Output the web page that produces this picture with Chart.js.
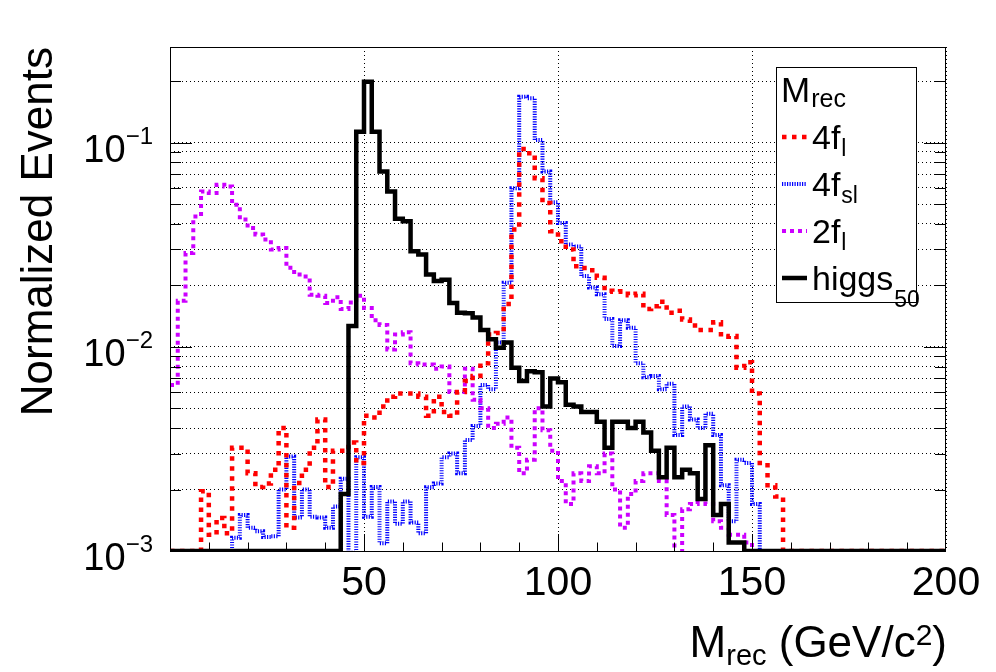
<!DOCTYPE html>
<html>
<head>
<meta charset="utf-8">
<script src="https://cdn.jsdelivr.net/npm/chart.js@4.4.1/dist/chart.umd.min.js"></script>
<style>
  body { margin: 0; background: #fff; }
  #wrap { width: 996px; height: 672px; }
</style>
</head>
<body>
<div id="wrap"><canvas id="plot" width="996" height="672"></canvas></div>
<script>
// M_rec histograms, 100 bins of 2 GeV between 0 and 200 GeV/c^2
const binWidth = 2;
const nBins = 100;

const fourFl = [
  0, 0, 0, 0, 0.00196, 0.0012, 0.00145, 0.00122, 0.0032, 0.0032,
  0.0024, 0.00206, 0.00214, 0.0025, 0.004, 0.0013, 0.00215, 0.0025, 0.0032, 0.0044,
  0.00206, 0.0031, 0.0031, 0.0034, 0.0027, 0.0046, 0.0045, 0.0051, 0.0057, 0.0059,
  0.0059, 0.0059, 0.0057, 0.0046, 0.0057, 0.0048, 0.0046, 0.006, 0.0068, 0.0072,
  0.0083, 0.0115, 0.0117, 0.0162, 0.0375, 0.0931, 0.0887, 0.067, 0.0506, 0.0368,
  0.0329, 0.030, 0.0248, 0.0243, 0.0237, 0.0218, 0.0188, 0.0186, 0.0187, 0.0179,
  0.0182, 0.0153, 0.0158, 0.0166, 0.0147, 0.015, 0.0136, 0.0127, 0.0121, 0.0121,
  0.0132, 0.0112, 0.0113, 0.0079, 0.0084, 0.0059, 0.0027, 0.0021, 0.00185, 0,
  0, 0, 0, 0, 0, 0, 0, 0, 0, 0,
  0, 0, 0, 0, 0, 0, 0, 0, 0, 0
];

const fourFsl = [
  0, 0, 0, 0, 0, 0, 0, 0, 0.00116, 0.0015,
  0.0013, 0.00125, 0.00117, 0.00118, 0.002, 0.0029, 0.00146, 0.002, 0.00147, 0.00146,
  0.0013, 0.00165, 0.00226, 0.00098, 0.00288, 0.00147, 0.00206, 0.00109, 0.00175, 0.00136,
  0.00175, 0.00138, 0.00122, 0.00205, 0.00214, 0.00288, 0.003, 0.0024, 0.0035, 0.0041,
  0.0065, 0.0062, 0.0105, 0.0206, 0.0598, 0.1676, 0.165, 0.103, 0.0722, 0.051,
  0.0404, 0.0317, 0.031, 0.0222, 0.0195, 0.0181, 0.0137, 0.0101, 0.0135, 0.0124,
  0.0083, 0.0071, 0.0072, 0.0062, 0.0066, 0.0037, 0.0051, 0.0044, 0.004, 0.0047,
  0.0037, 0.0021, 0.0014, 0.0028, 0.0027, 0.0017, 0, 0, 0, 0,
  0, 0, 0, 0, 0, 0, 0, 0, 0, 0,
  0, 0, 0, 0, 0, 0, 0, 0, 0, 0
];

const twoFl = [
  0.0065, 0.0168, 0.0288, 0.0435, 0.0577, 0.0566, 0.0622, 0.061, 0.0497, 0.042,
  0.0382, 0.0355, 0.0335, 0.030, 0.0305, 0.0244, 0.0226, 0.0221, 0.018, 0.0178,
  0.0164, 0.0175, 0.0153, 0.0165, 0.0178, 0.0155, 0.0135, 0.0128, 0.0097, 0.0115,
  0.0118, 0.0083, 0.0082, 0.0082, 0.0078, 0.008, 0.006, 0.006, 0.0078, 0.0055,
  0.005, 0.004, 0.0042, 0.0045, 0.0032, 0.0024, 0.0028, 0.005, 0.0039, 0.0031,
  0.0022, 0.0017, 0.0024, 0.0022, 0.0026, 0.0024, 0.003, 0.002, 0.0013, 0.0019,
  0.0022, 0.0024, 0.0024, 0.0022, 0.0015, 0.0009, 0.0016, 0.0017, 0.0018, 0.0017,
  0.0014, 0.0013, 0.0012, 0.0012, 0.0011, 0, 0, 0, 0, 0,
  0, 0, 0, 0, 0, 0, 0, 0, 0, 0,
  0, 0, 0, 0, 0, 0, 0, 0, 0, 0
];

const higgs50 = [
  0, 0, 0, 0, 0, 0, 0, 0, 0, 0,
  0, 0, 0, 0, 0, 0, 0, 0, 0, 0,
  0, 0, 0.0019, 0.01265, 0.113, 0.1985, 0.113, 0.0722, 0.0577, 0.0424,
  0.0412, 0.0294, 0.0283, 0.0226, 0.021, 0.0213, 0.0164, 0.0147, 0.0146, 0.0139,
  0.0121, 0.0109, 0.0099, 0.0105, 0.0079, 0.0068, 0.0076, 0.0075, 0.0051, 0.007,
  0.0067, 0.0052, 0.0051, 0.0048, 0.0048, 0.0043, 0.0032, 0.0043, 0.0043, 0.004,
  0.0043, 0.0038, 0.0031, 0.0023, 0.0032, 0.0023, 0.0025, 0.0024, 0.0018, 0.0033,
  0.0015, 0.0017, 0.0011, 0.0011, 0, 0, 0, 0, 0, 0,
  0, 0, 0, 0, 0, 0, 0, 0, 0, 0,
  0, 0, 0, 0, 0, 0, 0, 0, 0, 0
];

const seriesNames = ['4f', '4f', '2f', 'higgs'];
const seriesSubs = ['l', 'sl', 'l', '50'];
const seriesColors = ['#ff0000', '#0000ff', '#cc00ff', '#000000'];

const xRange = [0, 200];
const xGridTicks = [50, 100, 150, 200];
const xLabelTicks = [50, 100, 150, 200];
const xMinorTicks = [10, 20, 30, 40, 50, 60, 70, 80, 90, 100, 110, 120, 130, 140, 150, 160, 170, 180, 190];

const yRange = [0.001, 0.294];
const yTicks = [0.001, 0.002, 0.003, 0.004, 0.005, 0.006, 0.007, 0.008, 0.009,
                0.01, 0.02, 0.03, 0.04, 0.05, 0.06, 0.07, 0.08, 0.09,
                0.1, 0.2];
const yLabelTicks = [0.001, 0.01, 0.1];
const yLabelExps = ['\u22123', '\u22122', '\u22121'];

const FONT = '"Liberation Sans", Arial, Helvetica, sans-serif';

// bin low edges + closing edge; empty bins sit on the axis minimum like ROOT draws them
function histPoints(values) {
  const pts = values.map((v, i) => ({x: xRange[0] + i * binWidth, y: v > 0 ? v : yRange[0]}));
  pts.push({x: xRange[0] + nBins * binWidth, y: pts[pts.length - 1].y});
  return pts;
}

const styles = [
  {width: 4.5, dash: [4.5, 5.5], order: 1},
  {width: 4, dash: [1.2, 1.3], order: 3},
  {width: 4, dash: [4, 4], order: 2},
  {width: 4.5, dash: [], order: 0}
];

const allSeries = [fourFl, fourFsl, twoFl, higgs50];
const datasets = allSeries.map((vals, i) => ({
  label: seriesNames[i] + '_' + seriesSubs[i],
  data: histPoints(vals),
  borderColor: seriesColors[i],
  borderWidth: styles[i].width,
  borderDash: styles[i].dash,
  borderCapStyle: 'butt',
  borderJoinStyle: 'miter',
  order: styles[i].order,
  stepped: 'before',
  pointRadius: 0,
  fill: false,
  tension: 0
}));

function drawSubText(ctx, x, y, main, sub, size, subSize, subDy) {
  ctx.font = size + 'px ' + FONT;
  ctx.textAlign = 'left';
  ctx.fillText(main, x, y);
  const w = ctx.measureText(main).width;
  ctx.font = subSize + 'px ' + FONT;
  ctx.fillText(sub, x + w + 1, y + subDy);
}

const rootDecor = {
  id: 'rootDecor',
  afterDatasetsDraw(chart) {
    const {ctx, chartArea: a, scales: {x, y}} = chart;
    ctx.save();
    ctx.strokeStyle = '#000';
    ctx.fillStyle = '#000';
    ctx.lineWidth = 1;
    ctx.setLineDash([]);

    // frame
    ctx.strokeRect(a.left + 0.5, a.top + 0.5, a.right - a.left - 1, a.bottom - a.top);

    // inward ticks on left and right
    ctx.beginPath();
    yTicks.forEach(v => {
      const py = Math.round(y.getPixelForValue(v)) + 0.5;
      const len = yLabelTicks.includes(v) ? 22 : 11;
      ctx.moveTo(a.left, py); ctx.lineTo(a.left + len, py);
      ctx.moveTo(a.right, py); ctx.lineTo(a.right - len, py);
    });
    // inward ticks on bottom
    xMinorTicks.forEach(v => {
      const px = Math.round(x.getPixelForValue(v)) + 0.5;
      const len = xLabelTicks.includes(v) ? 17 : 8.5;
      ctx.moveTo(px, a.bottom); ctx.lineTo(px, a.bottom - len);
    });
    ctx.stroke();

    // y tick labels 10^n
    ctx.textBaseline = 'alphabetic';
    yLabelTicks.forEach((v, i) => {
      const py = y.getPixelForValue(v);
      ctx.font = '24px ' + FONT;
      ctx.textAlign = 'right';
      const right = a.left - 17;
      ctx.fillText(yLabelExps[i], right, py + 1);
      const sw = ctx.measureText(yLabelExps[i]).width;
      ctx.font = '38px ' + FONT;
      ctx.fillText('10', right - sw, py + 19);
    });

    // x tick labels
    ctx.font = '41px ' + FONT;
    ctx.textAlign = 'center';
    xLabelTicks.forEach(v => {
      ctx.fillText(String(v), x.getPixelForValue(v), 595);
    });

    // x axis title, right aligned to the frame
    const parts = [
      {t: 'M', s: 44, dy: 0},
      {t: 'rec', s: 29, dy: 8},
      {t: ' (GeV/c', s: 44, dy: 0},
      {t: '2', s: 30, dy: -12},
      {t: ')', s: 44, dy: 0}
    ];
    let total = 0;
    parts.forEach(p => { ctx.font = p.s + 'px ' + FONT; p.w = ctx.measureText(p.t).width; total += p.w; });
    let cx = a.right + 1 - total;
    ctx.textAlign = 'left';
    parts.forEach(p => {
      ctx.font = p.s + 'px ' + FONT;
      ctx.fillText(p.t, cx, 657 + p.dy);
      cx += p.w;
    });

    // y axis title
    ctx.save();
    ctx.translate(52, a.top);
    ctx.rotate(-Math.PI / 2);
    ctx.font = '44px ' + FONT;
    ctx.textAlign = 'right';
    ctx.fillText('Normalized Events', 0, 0);
    ctx.restore();

    // legend box
    const box = {x: 776, y: 67, w: 140, h: 235};
    ctx.fillStyle = '#fff';
    ctx.fillRect(box.x, box.y, box.w, box.h);
    ctx.strokeRect(box.x + 0.5, box.y + 0.5, box.w, box.h);
    ctx.fillStyle = '#000';
    drawSubText(ctx, box.x + 5, box.y + 35, 'M', 'rec', 35, 25, 5);

    chart.data.datasets.forEach((ds, i) => {
      const ly = box.y + 70 + i * 47;
      ctx.save();
      ctx.strokeStyle = ds.borderColor;
      ctx.lineWidth = ds.borderWidth;
      ctx.setLineDash(ds.borderDash);
      ctx.beginPath();
      ctx.moveTo(box.x + 6, ly);
      ctx.lineTo(box.x + 31, ly);
      ctx.stroke();
      ctx.restore();
      const hasDesc = /[gpqy]/.test(seriesNames[i]);
      drawSubText(ctx, box.x + 36, ly + 12, seriesNames[i], seriesSubs[i], 34, 23, hasDesc ? 17 : 7);
    });
    ctx.restore();
  }
};

new Chart(document.getElementById('plot'), {
  type: 'line',
  data: {datasets: datasets},
  options: {
    responsive: false,
    animation: false,
    devicePixelRatio: 1,
    layout: {padding: {left: 170, top: 47, right: 50, bottom: 121}},
    plugins: {legend: {display: false}, tooltip: {enabled: false}},
    scales: {
      x: {
        type: 'linear',
        min: xRange[0],
        max: xRange[1],
        afterBuildTicks: s => { s.ticks = xGridTicks.map(v => ({value: v})); },
        ticks: {display: false},
        grid: {color: '#000', lineWidth: 1, drawTicks: false},
        border: {display: false, dash: [1, 3]}
      },
      y: {
        type: 'logarithmic',
        min: yRange[0],
        max: yRange[1],
        afterBuildTicks: s => { s.ticks = yTicks.map(v => ({value: v})); },
        ticks: {display: false},
        grid: {color: '#000', lineWidth: 1, drawTicks: false},
        border: {display: false, dash: [1, 3]}
      }
    }
  },
  plugins: [rootDecor]
});
</script>
</body>
</html>
